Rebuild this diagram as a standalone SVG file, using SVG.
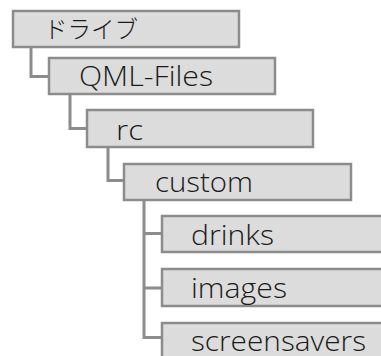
<svg xmlns="http://www.w3.org/2000/svg" width="381" height="356" viewBox="0 0 381 356">
<style>
.box{fill:#dcdcdc;stroke:#8c8c8c;stroke-width:2.5}
.lbl{font-family:"Open Sans","Noto Sans CJK JP",sans-serif;font-size:27px;font-weight:300;fill:#1a1a1a}
.jp{font-family:"Noto Sans CJK JP",sans-serif;font-size:24px;font-weight:300;fill:#1a1a1a}
.con{fill:none;stroke:#8c8c8c;stroke-width:3}
</style>
<rect width="381" height="356" fill="#ffffff"/>
<g id="connectors">
<path class="con" d="M31,48 V76.5 H49"/>
<path class="con" d="M70,95 V128.5 H87"/>
<path class="con" d="M108,148 V180.5 H124"/>
<path class="con" d="M144,201 V337.5 H162 M144,233.5 H162 M144,288 H162"/>
</g>
<g id="n1"><rect class="box" x="13" y="11" width="226" height="36"/><text class="jp" x="44" y="38" textLength="94" lengthAdjust="spacingAndGlyphs">ドライブ</text></g>
<g id="n2"><rect class="box" x="49" y="58" width="226" height="36"/><text class="lbl" x="79" y="86" textLength="134" lengthAdjust="spacingAndGlyphs">QML-Files</text></g>
<g id="n3"><rect class="box" x="87" y="110" width="226" height="37"/><text class="lbl" x="116" y="140" textLength="27" lengthAdjust="spacingAndGlyphs">rc</text></g>
<g id="n4"><rect class="box" x="124" y="164" width="227" height="36"/><text class="lbl" x="155" y="192" textLength="98" lengthAdjust="spacingAndGlyphs">custom</text></g>
<g id="n5"><rect class="box" x="162" y="216" width="230" height="36"/><text class="lbl" x="191" y="245" textLength="83" lengthAdjust="spacingAndGlyphs">drinks</text></g>
<g id="n6"><rect class="box" x="162" y="269" width="230" height="37"/><text class="lbl" x="191" y="298" textLength="96" lengthAdjust="spacingAndGlyphs">images</text></g>
<g id="n7"><rect class="box" x="162" y="323" width="230" height="50"/><text class="lbl" x="191" y="351" textLength="175" lengthAdjust="spacingAndGlyphs">screensavers</text></g>
</svg>
